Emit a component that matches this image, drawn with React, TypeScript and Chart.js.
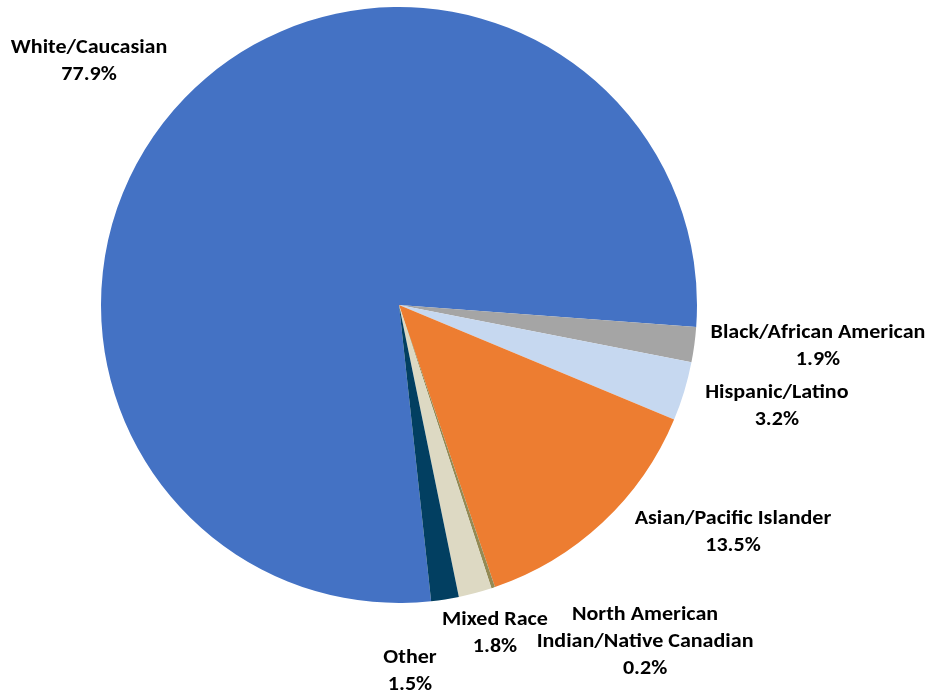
import React, { useEffect, useRef } from "react";
import { Chart, registerables } from "chart.js";

Chart.register(...registerables);

const categories = [
  "White/Caucasian",
  "Black/African American",
  "Hispanic/Latino",
  "Asian/Pacific Islander",
  "North American Indian/Native Canadian",
  "Mixed Race",
  "Other",
];
const percents = [77.9, 1.9, 3.2, 13.5, 0.2, 1.8, 1.5];
const labelLines = [
  ["White/Caucasian"],
  ["Black/African American"],
  ["Hispanic/Latino"],
  ["Asian/Pacific Islander"],
  ["North American", "Indian/Native Canadian"],
  ["Mixed Race"],
  ["Other"],
];
const colors = ["#4472C4", "#A5A5A5", "#C6D8F0", "#ED7D31", "#948A54", "#DDD9C3", "#023F61"];

// label placement: [angle shift from slice middle (deg), distance as fraction of radius]
const labelPlacement = [
  [-5.8, 1.324],
  [-2.0, 1.413],
  [-1.8, 1.313],
  [-12.65, 1.356],
  [-17.74, 1.399],
  [-1.48, 1.147],
  [7.17, 1.231],
];

const FONT = 'bold 21px Carlito, Lato, "Open Sans", sans-serif';
const STRETCH = 1.05;
const LINE_H = 27;

const labelPlugin = {
  id: "outerLabels",
  afterDatasetsDraw(chart: any) {
    const ctx = chart.ctx;
    const meta = chart.getDatasetMeta(0);
    meta.data.forEach((arc: any, i: number) => {
      const p = arc.getProps(["x", "y", "startAngle", "endAngle", "outerRadius"], true);
      const mid = (p.startAngle + p.endAngle) / 2 + (labelPlacement[i][0] * Math.PI) / 180;
      const r = p.outerRadius * labelPlacement[i][1];
      const cx = p.x + Math.cos(mid) * r;
      const cy = p.y + Math.sin(mid) * r;
      const lines = [...labelLines[i], percents[i].toFixed(1) + "%"];
      const top = cy - ((lines.length - 1) * LINE_H) / 2;
      ctx.save();
      ctx.translate(cx, 0);
      ctx.scale(STRETCH, 1);
      ctx.font = FONT;
      ctx.fillStyle = "#000000";
      ctx.textAlign = "center";
      ctx.textBaseline = "middle";
      lines.forEach((t, k) => ctx.fillText(t, 0, top + k * LINE_H));
      ctx.restore();
    });
  },
};

export default function App() {
  const ref = useRef<HTMLCanvasElement>(null);
  useEffect(() => {
    document.body.style.margin = "0";
    const chart = new Chart(ref.current!, {
      type: "pie",
      data: {
        labels: categories,
        datasets: [
          {
            data: percents,
            backgroundColor: colors,
            borderWidth: 0,
          },
        ],
      },
      options: {
        animation: false,
        responsive: false,
        rotation: 173.81,
        layout: { padding: { left: 101, right: 234, top: 7, bottom: 93 } },
        plugins: {
          legend: { display: false },
          tooltip: { enabled: false },
        },
      },
      plugins: [labelPlugin],
    });
    return () => chart.destroy();
  }, []);
  return (
    <div style={{ position: "fixed", left: 0, top: 0, width: 931, height: 696, background: "#fff" }}>
      <canvas ref={ref} width={931} height={696} style={{ width: 931, height: 696 }} />
    </div>
  );
}
